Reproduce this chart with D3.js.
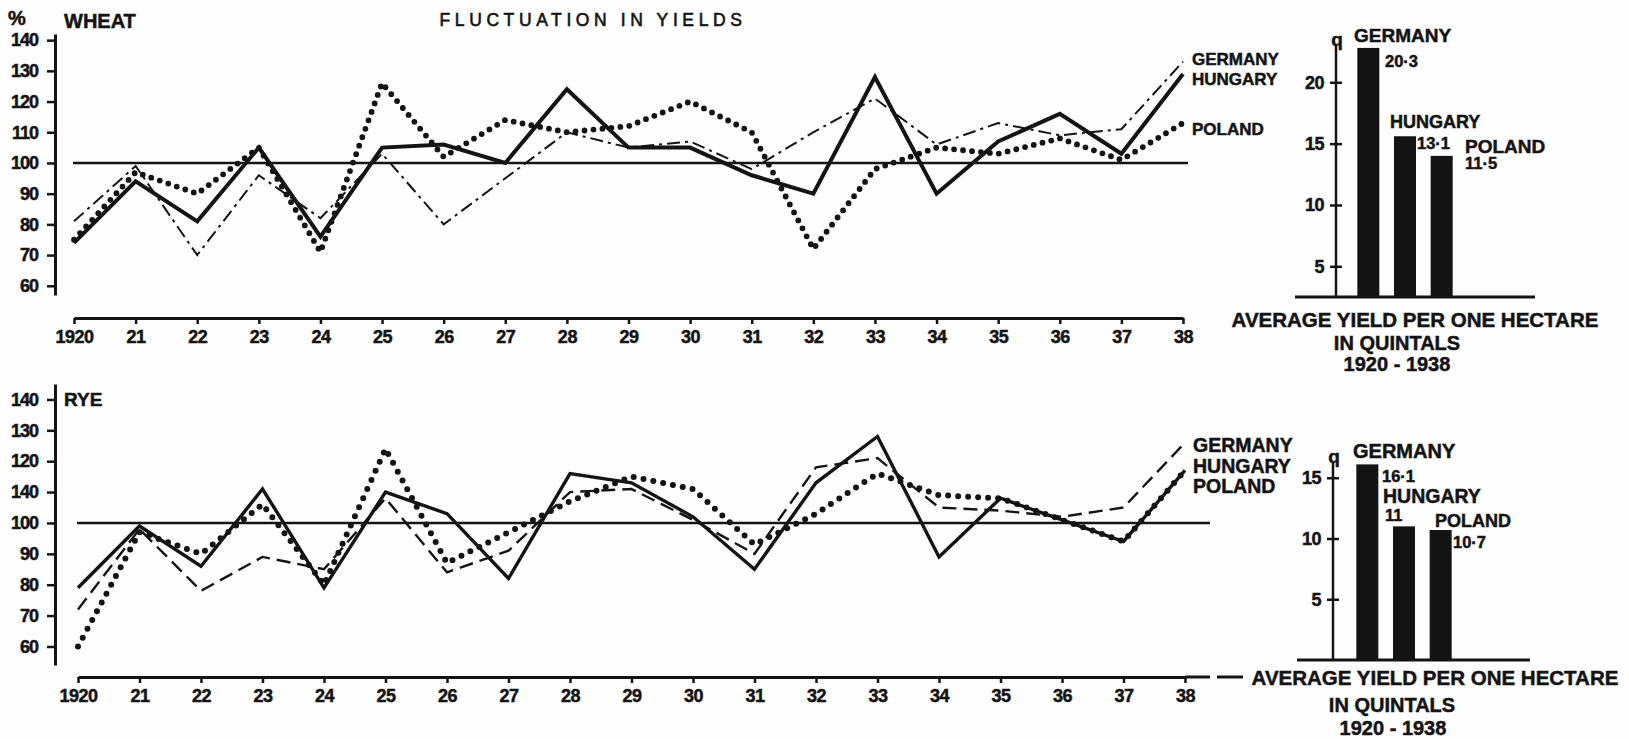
<!DOCTYPE html>
<html>
<head>
<meta charset="utf-8">
<script src="https://cdn.jsdelivr.net/npm/d3@7"></script>
<style>
  html, body { margin: 0; padding: 0; background: #fefefe; }
  svg { display: block; }
</style>
</head>
<body>
<div id="chart"></div>
<script>
// Fluctuation in yields (wheat, rye) 1920-1938, % of average, plus average yield bars.

const years = [1920, 1921, 1922, 1923, 1924, 1925, 1926, 1927, 1928, 1929,
  1930, 1931, 1932, 1933, 1934, 1935, 1936, 1937, 1938];
const yearLabels = ["1920", "21", "22", "23", "24", "25", "26", "27", "28", "29",
  "30", "31", "32", "33", "34", "35", "36", "37", "38"];
const countries = ["GERMANY", "HUNGARY", "POLAND"];

const wheatGermany = [81, 99, 70, 96, 82, 103, 80, 95, 110, 105, 107, 98, 110, 121, 106, 113, 109, 111, 133];
const wheatHungary = [74, 94, 81, 105, 76, 105, 106, 100, 124, 105, 105, 96, 90, 128, 90, 107, 116, 103, 129];
const wheatPoland = [75, 97, 90, 105, 71, 126, 102, 114, 110, 112, 120, 110, 72, 98, 105, 103, 108, 101, 113];

const ryeGermany = [72, 98, 78, 89, 85, 108, 84, 91, 110, 111, 101, 90, 118, 121, 105, 104, 102, 105, 126];
const ryeHungary = [79, 99, 86, 111, 79, 110, 103, 82, 116, 113, 102, 85, 113, 128, 89, 108, 101, 94, 117];
const ryePoland = [60, 97, 90, 106, 80, 124, 87, 97, 107, 115, 111, 93, 103, 116, 109, 108, 101, 94, 117];

const pctTicks = [60, 70, 80, 90, 100, 110, 120, 130, 140];
const wheatPctLabels = ["60", "70", "80", "90", "100", "110", "120", "130", "140"];
// the rye scale in the source prints "140" where 110 stands
const ryePctLabels = ["60", "70", "80", "90", "100", "140", "120", "130", "140"];

const wheatAvg = [20.3, 13.1, 11.5];
const wheatAvgLabels = ["20·3", "13·1", "11·5"];
const ryeAvg = [16.1, 11, 10.7];
const ryeAvgLabels = ["16·1", "11", "10·7"];
const wheatQTicks = [5, 10, 15, 20];
const ryeQTicks = [5, 10, 15];

const ink = "#141414";
const font = "'Liberation Sans', Arial, sans-serif";

const W = 1629, H = 739;
const svg = d3.select("#chart").append("svg")
  .attr("width", W).attr("height", H).attr("viewBox", `0 0 ${W} ${H}`)
  .attr("font-family", font).attr("font-weight", "bold").attr("fill", ink);

function label(g, txt, x, y, size, anchor = "start", extra = {}) {
  const t = g.append("text").attr("x", x).attr("y", y)
    .attr("font-size", size).attr("text-anchor", anchor).attr("fill", ink)
    .attr("stroke", ink).attr("stroke-width", 0.5).text(txt);
  Object.entries(extra).forEach(([k, v]) => t.attr(k, v));
  return t;
}

function inkText(sel) {
  sel.attr("fill", ink).attr("stroke", ink).attr("stroke-width", 0.5);
}

function drawPanel(p) {
  const g = svg.append("g");
  const x = d3.scaleLinear().domain([years[0], years[years.length - 1]]).range(p.xRange);
  const y = d3.scaleLinear().domain(p.yDomain).range(p.yRange);

  // left % axis
  const ya = g.append("g").attr("transform", `translate(${p.yAxisX},0)`)
    .call(d3.axisLeft(y).tickValues(pctTicks).tickFormat((d, i) => p.pctLabels[i])
      .tickSize(8).tickSizeOuter(0).tickPadding(9));
  ya.attr("font-family", font).attr("font-size", 18).attr("font-weight", "bold");
  ya.select(".domain").attr("stroke", ink).attr("stroke-width", 3);
  ya.selectAll(".tick line").attr("stroke", ink).attr("stroke-width", 2.5);
  inkText(ya.selectAll(".tick text").attr("letter-spacing", -1));

  // year axis
  const xa = g.append("g").attr("transform", `translate(0,${p.xAxisY})`)
    .call(d3.axisBottom(x).tickValues(years).tickFormat((d, i) => yearLabels[i])
      .tickSize(6).tickSizeOuter(0).tickPadding(6));
  xa.attr("font-family", font).attr("font-size", 18).attr("font-weight", "bold");
  xa.select(".domain").attr("stroke", ink).attr("stroke-width", 3);
  xa.selectAll(".tick line").attr("stroke", ink).attr("stroke-width", 2.5);
  inkText(xa.selectAll(".tick text").attr("letter-spacing", -0.5));
  p.axisExtra.forEach(([a, b]) => {
    g.append("line").attr("x1", x(years[years.length - 1]) + a).attr("x2", x(years[years.length - 1]) + b)
      .attr("y1", p.xAxisY).attr("y2", p.xAxisY).attr("stroke", ink).attr("stroke-width", 3);
  });

  // 100 % reference line
  g.append("line")
    .attr("x1", x(years[0]) - 1).attr("x2", x(years[years.length - 1]) + p.hundredExt)
    .attr("y1", y(100)).attr("y2", y(100))
    .attr("stroke", ink).attr("stroke-width", 2.6);

  const line = d3.line().x((d, i) => x(years[i])).y((d) => y(d));
  p.series.forEach((s, k) => {
    const st = p.styles[k];
    g.append("path").datum(s)
      .attr("fill", "none").attr("stroke", ink)
      .attr("stroke-width", st.w)
      .attr("stroke-dasharray", st.dash || null)
      .attr("stroke-linecap", st.cap || "butt")
      .attr("stroke-linejoin", "miter")
      .attr("d", line);
  });

  // panel name and legend
  label(g, p.name, p.nameXY[0], p.nameXY[1], p.nameSize);
  countries.forEach((c, k) => label(g, c, p.legendX, p.legendY[k], p.legendSize));

  // average yield bars
  const band = d3.scaleBand().domain(countries).range(p.barRange).paddingInner(0.4).paddingOuter(0.2);
  const span = 22;
  const qv = d3.scaleLinear().domain([0, span]).range([p.barBase, p.barBase - span * p.pxPerQ]);
  const qa = d3.scaleLinear().domain([p.qShift, span + p.qShift]).range(qv.range());

  g.append("line").attr("x1", p.baseX[0]).attr("x2", p.baseX[1])
    .attr("y1", p.barBase).attr("y2", p.barBase).attr("stroke", ink).attr("stroke-width", 3);
  g.append("line").attr("x1", p.qAxisX).attr("x2", p.qAxisX)
    .attr("y1", p.barBase).attr("y2", p.qTop).attr("stroke", ink).attr("stroke-width", 2.5);
  const qAxis = g.append("g").attr("transform", `translate(${p.qAxisX},0)`)
    .call(d3.axisLeft(qa).tickValues(p.qTicks).tickSize(6).tickSizeOuter(0).tickPadding(6));
  qAxis.attr("font-family", font).attr("font-size", 18).attr("font-weight", "bold");
  qAxis.select(".domain").remove();
  qAxis.selectAll(".tick line").attr("stroke", ink).attr("stroke-width", 2.5).attr("x1", 6);
  inkText(qAxis.selectAll(".tick text").attr("letter-spacing", -0.5));
  label(g, "q", p.qAxisX + 1, p.qTop + 1, 19, "middle");

  g.selectAll("rect.bar").data(p.avg).join("rect").attr("class", "bar")
    .attr("x", (d, i) => band(countries[i])).attr("width", band.bandwidth())
    .attr("y", (d) => qv(d)).attr("height", (d) => qv(0) - qv(d))
    .attr("fill", ink);

  countries.forEach((c, k) => {
    label(g, c, p.barNames[k][0], p.barNames[k][1], p.barNameSize[k]);
    label(g, p.avgLabels[k], p.barVals[k][0], p.barVals[k][1], 16.5);
  });
  p.caption.forEach(([t, cx, cy, sz]) => label(g, t, cx, cy, sz, "middle"));
}

drawPanel({
  name: "WHEAT", nameXY: [64, 28], nameSize: 20,
  series: [wheatGermany, wheatHungary, wheatPoland],
  styles: [
    { w: 2, dash: "13,5,3,5" },
    { w: 4 },
    { w: 5.8, dash: "0,9", cap: "round" },
  ],
  pctLabels: wheatPctLabels,
  yAxisX: 55, yDomain: [57, 142], yRange: [295, 34],
  xRange: [74, 1183], xAxisY: 318, axisExtra: [], hundredExt: 5,
  legendX: 1192, legendY: [65, 85, 135], legendSize: 17,
  avg: wheatAvg, avgLabels: wheatAvgLabels, qTicks: wheatQTicks,
  barRange: [1350, 1460], barBase: 297, pxPerQ: 12.27, qShift: 2.5,
  qAxisX: 1336, qTop: 45, baseX: [1295, 1535],
  barNames: [[1354, 42], [1390, 128], [1465, 153]], barNameSize: [19, 18, 19],
  barVals: [[1385, 67], [1417, 149], [1465, 169]],
  caption: [
    ["AVERAGE YIELD PER ONE HECTARE", 1415, 327, 20.5],
    ["IN QUINTALS", 1397, 350, 20],
    ["1920 - 1938", 1397, 371, 20],
  ],
});

drawPanel({
  name: "RYE", nameXY: [64, 406], nameSize: 19,
  series: [ryeGermany, ryeHungary, ryePoland],
  styles: [
    { w: 2.4, dash: "14,7" },
    { w: 3.4 },
    { w: 6, dash: "0,10", cap: "round" },
  ],
  pctLabels: ryePctLabels,
  yAxisX: 55, yDomain: [54, 145], yRange: [665, 384],
  xRange: [78, 1185], xAxisY: 677, axisExtra: [[0, 25], [32, 58]], hundredExt: 25,
  legendX: 1193, legendY: [452, 473, 493], legendSize: 19.5,
  avg: ryeAvg, avgLabels: ryeAvgLabels, qTicks: ryeQTicks,
  barRange: [1349, 1459], barBase: 660, pxPerQ: 12.15, qShift: 0,
  qAxisX: 1333, qTop: 462, baseX: [1297, 1530],
  barNames: [[1353, 458], [1383, 503], [1435, 527]], barNameSize: [20, 19.5, 18],
  barVals: [[1382, 482], [1385, 521], [1453, 548]],
  caption: [
    ["AVERAGE YIELD PER ONE HECTARE", 1435, 685, 20.5],
    ["IN  QUINTALS", 1392, 712, 20],
    ["1920 - 1938", 1393, 735, 20],
  ],
});

// sheet heading
label(svg, "%", 8, 25, 20);
label(svg, "FLUCTUATION IN YIELDS", 593, 26, 17.5, "middle",
  { "letter-spacing": 4.6, "font-weight": "normal", "stroke-width": 0.6 });
</script>
</body>
</html>
